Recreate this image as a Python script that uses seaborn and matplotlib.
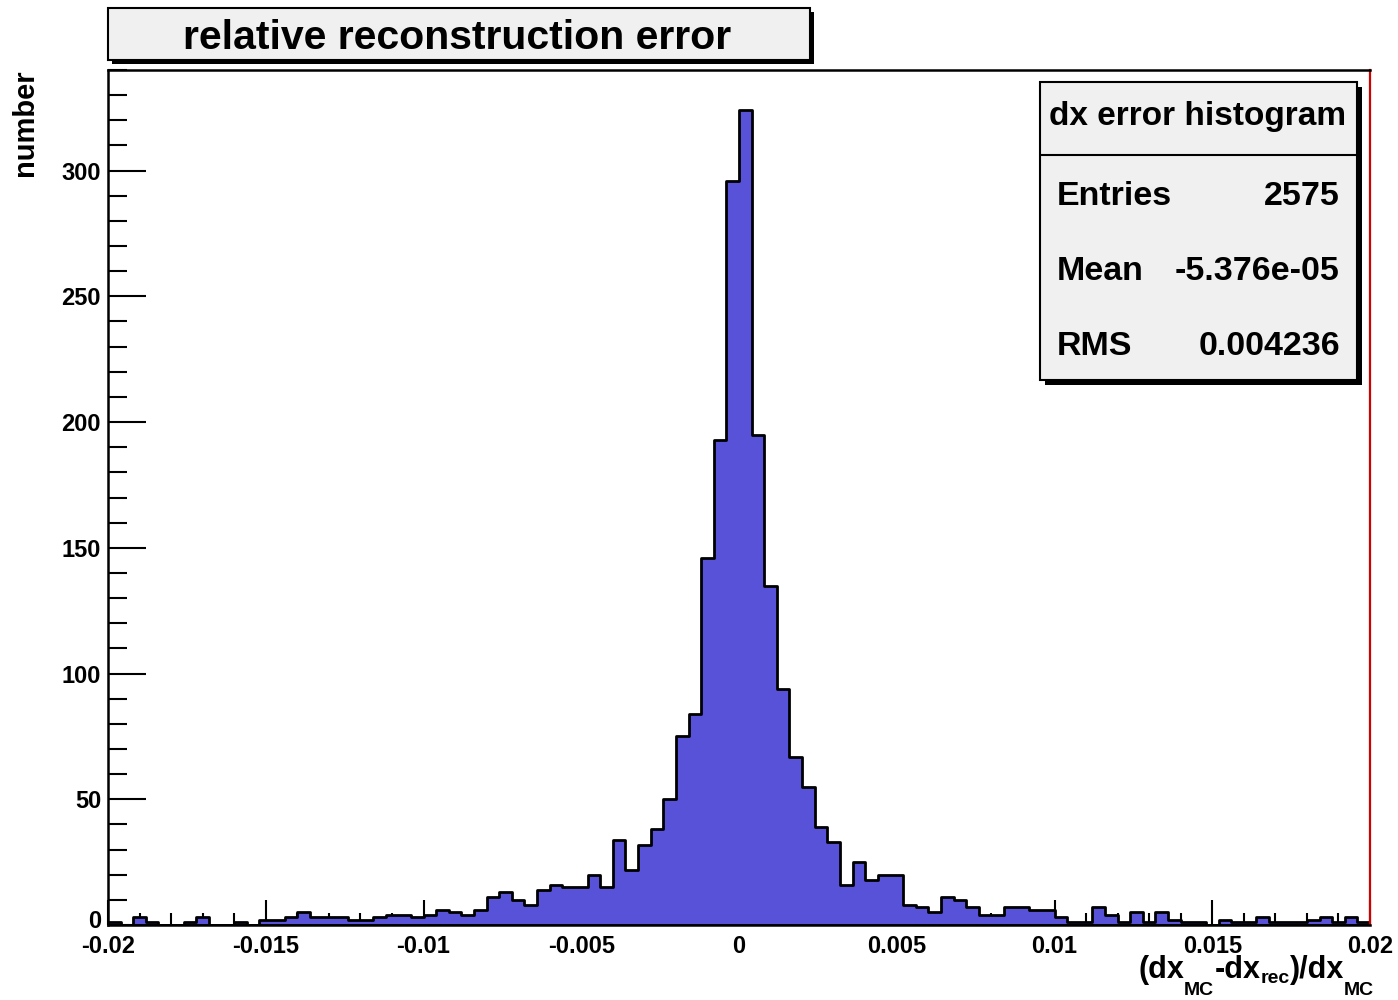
import numpy as np
import pandas as pd
import matplotlib
matplotlib.use("Agg")
import matplotlib.pyplot as plt
from matplotlib.patches import Rectangle
from matplotlib.lines import Line2D
from matplotlib.transforms import IdentityTransform, ScaledTranslation
from matplotlib.ticker import FixedLocator, MultipleLocator
import seaborn as sns

# ---- histogram contents: 100 bins over [-0.02, 0.02] ----
x_min, x_max, n_bins = -0.02, 0.02, 100
counts = [
    1, 0, 3, 1, 0, 0, 1, 3, 0, 0,
    1, 0, 2, 2, 3, 5, 3, 3, 3, 2,
    2, 3, 4, 4, 3, 4, 6, 5, 4, 6,
    11, 13, 10, 8, 14, 16, 15, 15, 20, 15,
    34, 22, 32, 38, 50, 75, 84, 146, 193, 296,
    324, 195, 135, 94, 67, 55, 39, 33, 16, 25,
    18, 20, 20, 8, 7, 5, 11, 10, 7, 4,
    4, 7, 7, 6, 6, 3, 1, 1, 7, 4,
    1, 5, 1, 5, 2, 1, 1, 0, 2, 1,
    1, 3, 1, 1, 1, 2, 3, 1, 3, 1,
]

x_tick_values = [-0.02, -0.015, -0.01, -0.005, 0.0, 0.005, 0.01, 0.015, 0.02]
x_tick_labels = ["-0.02", "-0.015", "-0.01", "-0.005", "0", "0.005", "0.01", "0.015", "0.02"]
y_tick_values = [0, 50, 100, 150, 200, 250, 300]
y_tick_labels = ["0", "50", "100", "150", "200", "250", "300"]

title_text = "relative reconstruction error"
stats_title = "dx error histogram"
stats_names = ["Entries", "Mean", "RMS"]
stats_values = ["2575", "-5.376e-05", "0.004236"]

edges = np.linspace(x_min, x_max, n_bins + 1)
centers = 0.5 * (edges[:-1] + edges[1:])
df = pd.DataFrame({"dx": centers, "n": counts})

sns.set_style("ticks")
plt.rcParams["font.family"] = ["Liberation Sans", "DejaVu Sans"]
plt.rcParams["font.weight"] = "bold"
for key in ["text.color", "axes.labelcolor", "xtick.color", "ytick.color",
            "xtick.labelcolor", "ytick.labelcolor"]:
    plt.rcParams[key] = "black"

W, H = 1398, 1000
fig = plt.figure(figsize=(W / 100, H / 100), dpi=100)
fig.patch.set_facecolor("white")

def fx(px):
    return px / W

def fy(py):
    return 1 - py / H

ax = fig.add_axes([fx(108), fy(925), fx(1370) - fx(108), fy(70) - fy(925)])

sns.histplot(data=df, x="dx", weights="n", bins=n_bins, binrange=(x_min, x_max),
             element="step", fill=True, color="#5752d7", alpha=1,
             edgecolor="black", linewidth=2.0, ax=ax)

ax.set_xlim(x_min, x_max)
ax.set_ylim(0, 340)
ax.set_xlabel("")
ax.set_ylabel("")

ax.xaxis.set_major_locator(FixedLocator(x_tick_values))
ax.set_xticklabels(x_tick_labels)
ax.xaxis.set_minor_locator(MultipleLocator(0.001))
ax.yaxis.set_major_locator(FixedLocator(y_tick_values))
ax.set_yticklabels(y_tick_labels)
ax.yaxis.set_minor_locator(MultipleLocator(10))

ax.tick_params(axis="x", which="major", direction="in", length=18, width=1.5,
               labelsize=17, pad=7.5, bottom=True, top=False, color="black")
ax.tick_params(axis="x", which="minor", direction="in", length=8.5, width=1.5,
               bottom=True, top=False, color="black")
ax.tick_params(axis="y", which="major", direction="in", length=27, width=1.5,
               labelsize=17, pad=5, left=True, right=False, color="black")
ax.tick_params(axis="y", which="minor", direction="in", length=13.5, width=1.5,
               left=True, right=False, color="black")
for lab in ax.get_xticklabels() + ax.get_yticklabels():
    lab.set_fontweight("bold")
# lift the count-axis zero slightly so it clears the first x label
zero_lab = ax.yaxis.get_major_ticks()[0].label1
zero_lab.set_transform(zero_lab.get_transform()
                       + ScaledTranslation(0, 4 / 72, fig.dpi_scale_trans))

for side in ["left", "bottom", "top"]:
    ax.spines[side].set_visible(True)
    ax.spines[side].set_color("black")
    ax.spines[side].set_linewidth(1.8)
ax.spines["right"].set_visible(True)
ax.spines["right"].set_color("#d00000")
ax.spines["right"].set_linewidth(1.6)

# ---- title box with drop shadow ----
def shadow_box(x0, y0, x1, y1, off):
    fig.patches.append(Rectangle((fx(x0 + off), fy(y1 + off)), fx(x1) - fx(x0),
                                 fy(y0) - fy(y1), transform=fig.transFigure,
                                 facecolor="black", edgecolor="none", zorder=5))
    fig.patches.append(Rectangle((fx(x0), fy(y1)), fx(x1) - fx(x0),
                                 fy(y0) - fy(y1), transform=fig.transFigure,
                                 facecolor="#f0f0f0", edgecolor="black",
                                 linewidth=1.5, zorder=6))

shadow_box(108, 8, 810, 60, 4)
fig.text(fx(457), fy(49), title_text, ha="center", va="baseline",
         fontsize=29.5, fontweight="bold", zorder=7)

# ---- statistics box ----
shadow_box(1040, 82, 1357, 380, 5)
fig.lines.append(Line2D([fx(1040), fx(1357)], [fy(155), fy(155)],
                        transform=fig.transFigure, color="black",
                        linewidth=1.5, zorder=7))
fig.text(fx(1198), fy(125), stats_title, ha="center", va="baseline",
         fontsize=24, fontweight="bold", zorder=7)
for i, (name, val) in enumerate(zip(stats_names, stats_values)):
    yb = 205 + 75 * i
    fig.text(fx(1057), fy(yb), name, ha="left", va="baseline",
             fontsize=24.5, fontweight="bold", zorder=7)
    fig.text(fx(1340), fy(yb), val, ha="right", va="baseline",
             fontsize=24.5, fontweight="bold", zorder=7)

# ---- axis titles ----
fig.text(fx(25), fy(69), "number", rotation=90, ha="center", va="top",
         fontsize=21, fontweight="bold")

# x title with lowered subscripts, laid out piece by piece, right-aligned
pieces = [("(dx", 22, 978), ("MC", 14, 995), ("-dx", 22, 978),
          ("rec", 14, 983), (")/dx", 22, 978), ("MC", 14, 995)]
renderer = fig.canvas.get_renderer()
texts = []
for s, size, base in pieces:
    t = fig.text(0, H - base, s, fontsize=size, fontweight="bold",
                 ha="left", va="baseline", transform=IdentityTransform())
    texts.append(t)
widths = [t.get_window_extent(renderer).width for t in texts]
xpos = 1374 - sum(widths)
for t, w in zip(texts, widths):
    t.set_x(xpos)
    xpos += w

fig.savefig("out.png", dpi=100)
